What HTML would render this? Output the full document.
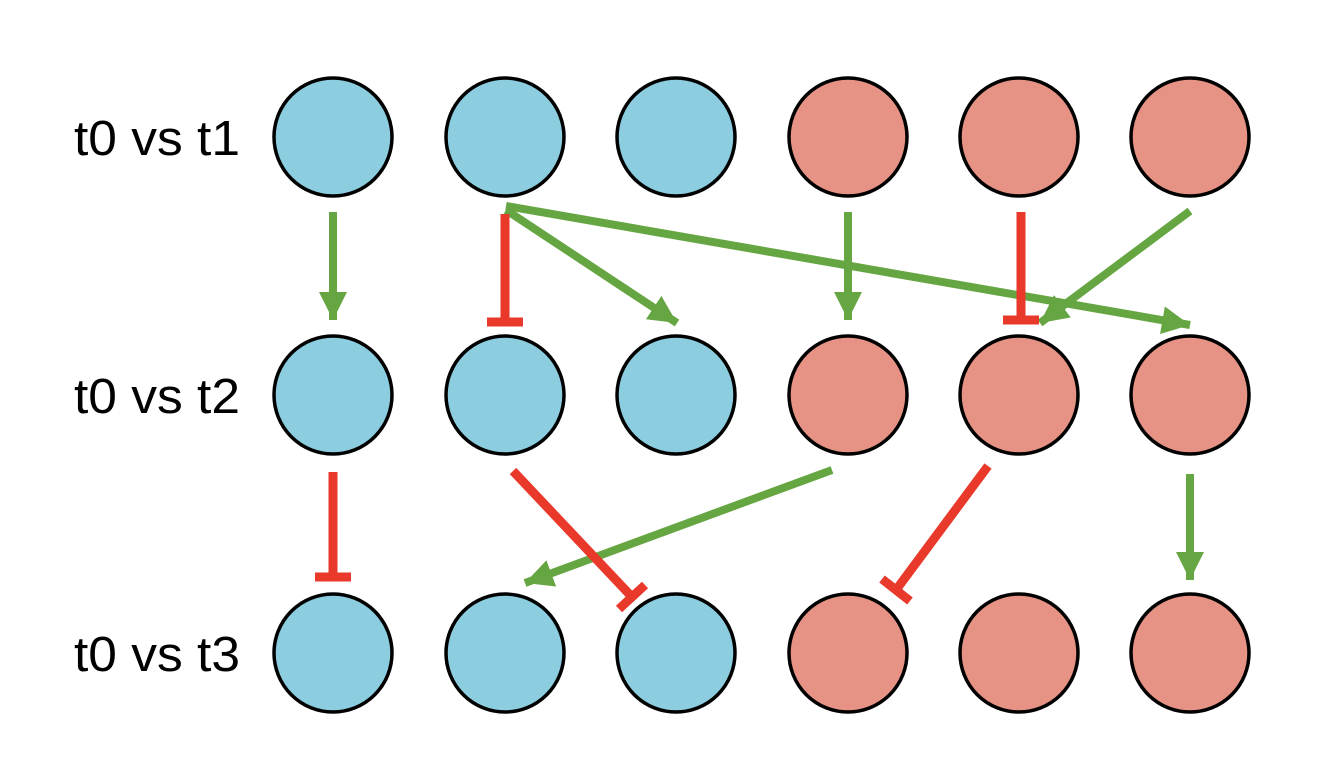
<!DOCTYPE html>
<html><head><style>
html,body{margin:0;padding:0;background:#fff;}
</style></head><body>
<svg width="1326" height="768" viewBox="0 0 1326 768" xmlns="http://www.w3.org/2000/svg">
<defs>
<marker id="ah" markerUnits="userSpaceOnUse" markerWidth="32" markerHeight="32" refX="28" refY="14" orient="auto">
<path d="M0,0 L28,14 L0,28 Z" fill="#66a642"/>
</marker>
</defs>
<g font-family="Liberation Sans, sans-serif" font-size="49" fill="#000">
<text x="74" y="155" textLength="166" lengthAdjust="spacingAndGlyphs">t0 vs t1</text>
<text x="74" y="413" textLength="166" lengthAdjust="spacingAndGlyphs">t0 vs t2</text>
<text x="74" y="671" textLength="166" lengthAdjust="spacingAndGlyphs">t0 vs t3</text>
</g>
<g stroke="#000" stroke-width="3.5">
<g fill="#8ccde0">
<circle cx="333" cy="137" r="59"/><circle cx="505" cy="137" r="59"/><circle cx="676" cy="137" r="59"/>
<circle cx="333" cy="395" r="59"/><circle cx="505" cy="395" r="59"/><circle cx="676" cy="395" r="59"/>
<circle cx="333" cy="653" r="59"/><circle cx="505" cy="653" r="59"/><circle cx="676" cy="653" r="59"/>
</g>
<g fill="#e69285">
<circle cx="848" cy="137" r="59"/><circle cx="1019" cy="137" r="59"/><circle cx="1190" cy="137" r="59"/>
<circle cx="848" cy="395" r="59"/><circle cx="1019" cy="395" r="59"/><circle cx="1190" cy="395" r="59"/>
<circle cx="848" cy="653" r="59"/><circle cx="1019" cy="653" r="59"/><circle cx="1190" cy="653" r="59"/>
</g>
</g>
<g stroke="#66a642" stroke-width="8" fill="none" marker-end="url(#ah)">
<line x1="333" y1="212" x2="333" y2="320"/>
<line x1="506" y1="210" x2="677" y2="323"/>
<line x1="506" y1="206" x2="1190" y2="325"/>
<line x1="848" y1="212" x2="848" y2="320"/>
<line x1="1190" y1="211" x2="1040" y2="323"/>
<line x1="832" y1="470" x2="525" y2="583"/>
<line x1="1190" y1="474" x2="1190" y2="580"/>
</g>
<g stroke="#e8392a" stroke-width="9" fill="none">
<line x1="505" y1="214" x2="505" y2="322"/><line x1="487" y1="322" x2="523" y2="322"/>
<line x1="1021" y1="212" x2="1021" y2="320"/><line x1="1003" y1="320" x2="1039" y2="320"/>
<line x1="333" y1="472" x2="333" y2="577"/><line x1="315" y1="577" x2="351" y2="577"/>
<line x1="513" y1="471" x2="632" y2="597"/><line x1="619" y1="609" x2="645" y2="585"/>
<line x1="988" y1="466" x2="896" y2="590"/><line x1="882" y1="579" x2="910" y2="601"/>
</g>
</svg>
</body></html>
